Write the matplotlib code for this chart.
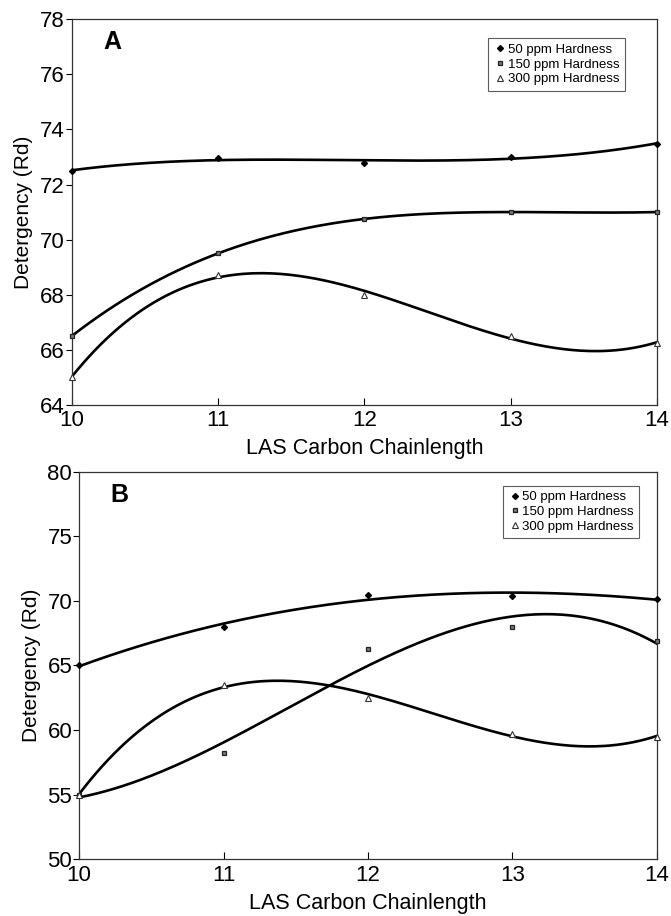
import numpy as np
import matplotlib
matplotlib.use('Agg')
import matplotlib.pyplot as plt

plt.rcParams['font.family'] = ['Liberation Sans', 'DejaVu Sans']

# ── data ────────────────────────────────────────────────
chain = [10, 11, 12, 13, 14]
labels = ["50 ppm Hardness", "150 ppm Hardness", "300 ppm Hardness"]

a_50 = [72.5, 72.95, 72.78, 73.0, 73.48]
a_150 = [66.5, 69.5, 70.75, 71.0, 71.0]
a_300 = [65.0, 68.72, 68.0, 66.5, 66.25]

b_50 = [65.0, 68.0, 70.45, 70.4, 70.15]
b_150 = [55.0, 58.2, 66.25, 67.95, 66.9]
b_300 = [55.0, 63.5, 62.5, 59.7, 59.5]

markers = [
    dict(marker='D', ms=3.0, mfc='black', mec='black'),
    dict(marker='s', ms=3.4, mfc='#777777', mec='#222222', mew=0.9),
    dict(marker='^', ms=3.8, mfc='white', mec='#333333', mew=0.8),
]

fig = plt.figure(figsize=(6.71, 9.16), dpi=100)


def panel(rect, series, ylim, yticks, letter, leg_anchor):
    ax = fig.add_axes(rect)
    xs = np.linspace(10, 14, 200)
    for ys, lab, mk in zip(series, labels, markers):
        # polynomial trendline (3rd order), as in the original spreadsheet
        coef = np.polyfit(chain, ys, 3)
        ax.plot(xs, np.polyval(coef, xs), color='black', lw=1.9, zorder=2)
        ax.plot(chain, ys, ls='none', label=lab, zorder=3, clip_on=False, **mk)
    ax.set_xlim(10, 14)
    ax.set_ylim(*ylim)
    ax.set_xticks(chain)
    ax.set_yticks(yticks)
    ax.tick_params(axis='both', labelsize=16, colors='black', width=0.8)
    ax.tick_params(axis='x', direction='in', length=5, pad=4)
    ax.tick_params(axis='y', direction='out', length=4, pad=1)
    for s in ax.spines.values():
        s.set_linewidth(0.9)
        s.set_color('#333333')
    ax.set_xlabel("LAS Carbon Chainlength", fontsize=15.5, labelpad=5)
    ax.set_ylabel("Detergency (Rd)", fontsize=15, labelpad=5)
    ax.text(0.054, 0.94, letter, transform=ax.transAxes, fontsize=18,
            fontweight='bold', va='center', ha='left')
    leg = ax.legend(loc='upper left', bbox_to_anchor=leg_anchor,
                    borderaxespad=0, fontsize=9.5, frameon=True, fancybox=False,
                    handletextpad=0.1, handlelength=1.0, labelspacing=0.2,
                    borderpad=0.4, markerscale=1.0)
    leg.get_frame().set_edgecolor('#333333')
    leg.get_frame().set_linewidth(0.8)
    return ax


panel([0.107, 0.558, 0.872, 0.421], [a_50, a_150, a_300],
      (64, 78), range(64, 79, 2), "A", (0.712, 0.951))
panel([0.118, 0.062, 0.861, 0.423], [b_50, b_150, b_300],
      (50, 80), range(50, 81, 5), "B", (0.733, 0.964))

plt.savefig("out.png", dpi=100)
